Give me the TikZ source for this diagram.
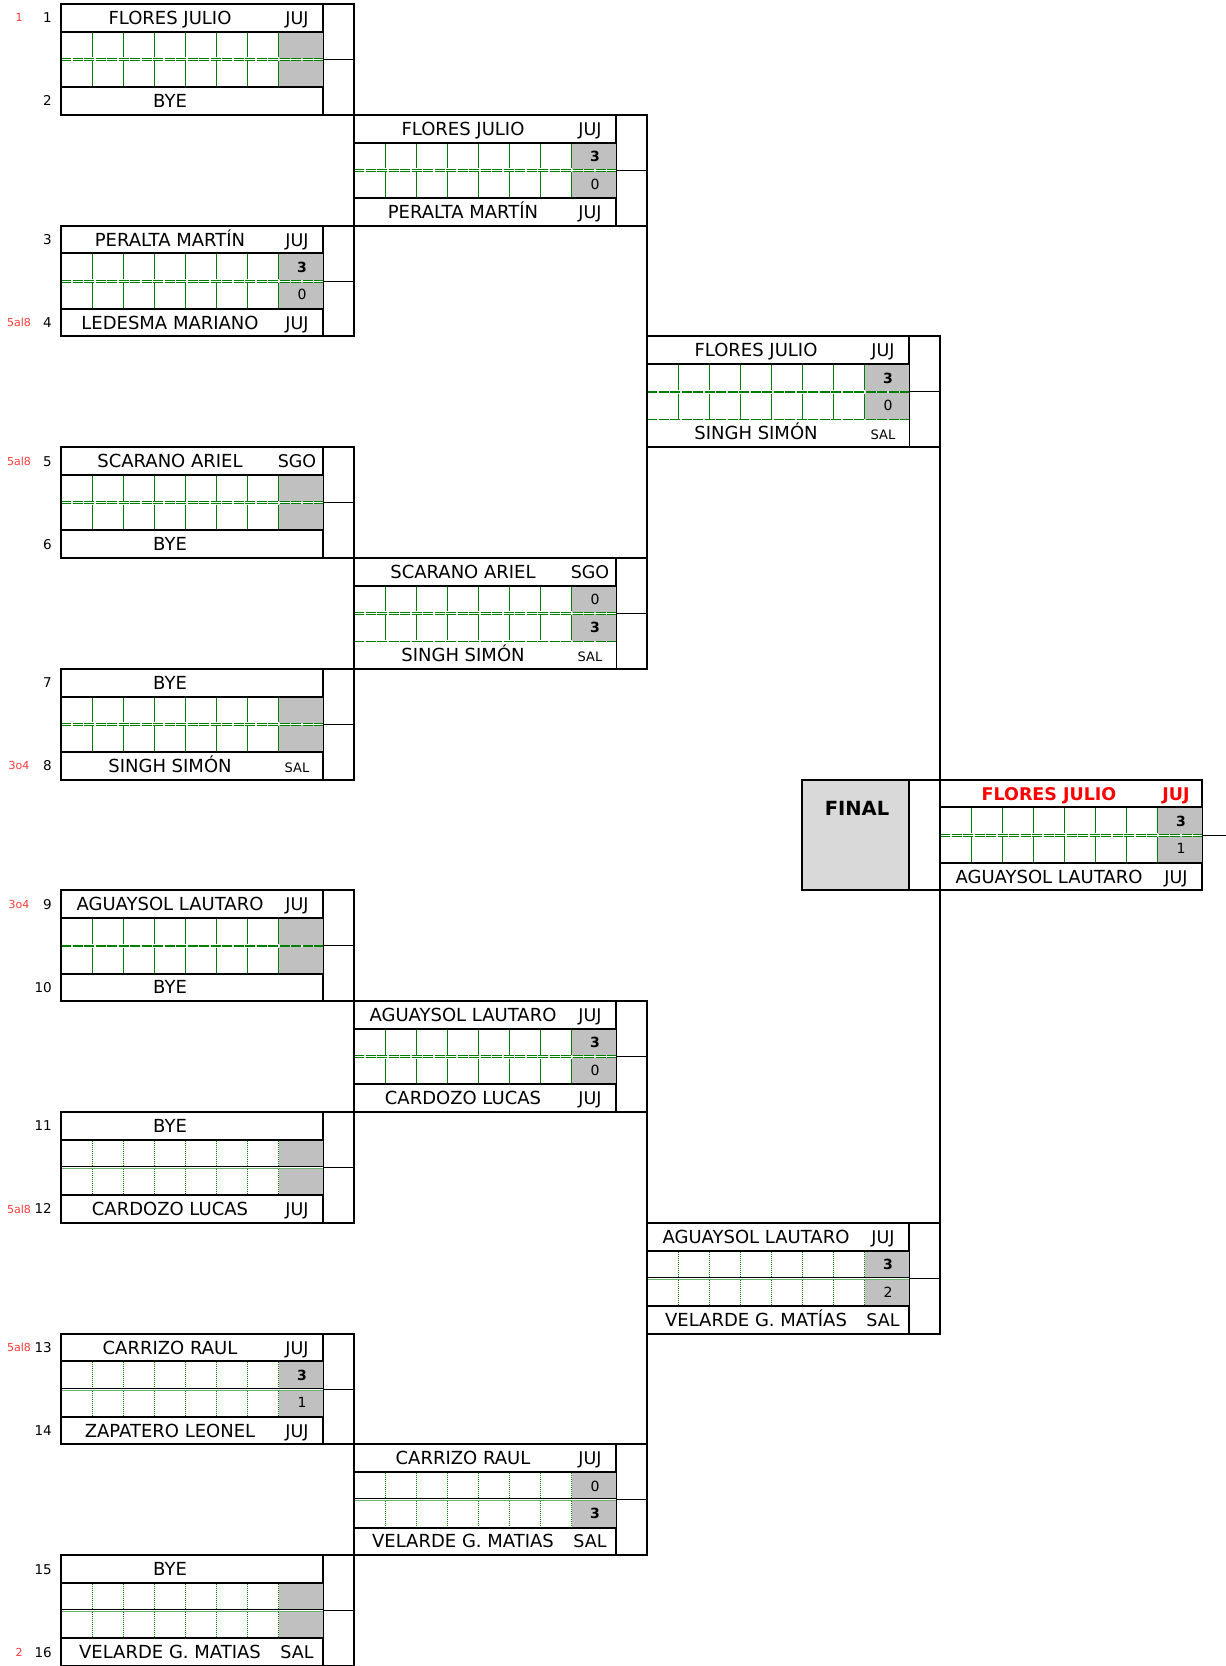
\documentclass[tikz,border=0pt]{standalone}
\usepackage{fontspec}
\setmainfont{DejaVu Sans}
\definecolor{gridgreen}{HTML}{008000}
\definecolor{lightgreen}{HTML}{6DB36D}
\definecolor{cellgrey}{HTML}{C0C0C0}
\definecolor{finalgrey}{HTML}{D9D9D9}
\definecolor{notered}{HTML}{FF3B3B}
\tikzset{
  thickline/.style={line width=2pt, line cap=rect},
  thinline/.style={line width=0.9pt},
  gvert/.style={gridgreen, line width=0.75pt},
  ghor/.style={gridgreen, line width=0.55pt, dash pattern=on 10pt off 1.5pt},
  gdot/.style={gridgreen, line width=0.8pt, dash pattern=on 1pt off 1pt},
  nm/.style={anchor=base, inner sep=0pt, font=\fontsize{18}{20}\selectfont},
  cd/.style={anchor=base, inner sep=0pt, font=\fontsize{17.5}{20}\selectfont},
  cdsmall/.style={anchor=base, inner sep=0pt, font=\fontsize{13}{15}\selectfont},
  sc/.style={anchor=base, inner sep=0pt, font=\fontsize{14}{15}\selectfont},
  scb/.style={anchor=base, inner sep=0pt, font=\fontsize{14}{15}\selectfont\bfseries},
  seed/.style={anchor=base east, inner sep=0pt, font=\fontsize{13.5}{15}\selectfont},
  note/.style={anchor=base, inner sep=0pt, text=notered, font=\fontsize{11}{12}\selectfont},
}
% block frame: #1 = left x, #2 = first row, #3 = grid type (1 dashed, 2 dotted), #4 = variant (0 normal, 1 open bottom row, 2 final)
\newcommand\mblock[4]{%
  \pgfmathsetmacro\ya{4+27.7*#2}%
  \pgfmathsetmacro\yb{\ya+27.7}%
  \pgfmathsetmacro\ym{\ya+55.4}%
  \pgfmathsetmacro\yc{\ya+83.1}%
  \pgfmathsetmacro\yd{\ya+110.8}%
  \pgfmathsetmacro\xg{#1+217.7}%
  \pgfmathsetmacro\xr{#1+262}%
  \pgfmathsetmacro\xo{#1+293}%
  \fill[cellgrey] (\xg,\yb) rectangle (\xr,{\ym-0.9});
  \fill[cellgrey] (\xg,{\ym+0.9}) rectangle (\xr,\yc);
  \ifnum#3=1
    \foreach \k in {1,...,7}{%
      \draw[gvert] ({#1+31.1*\k},{\yb+1}) -- ({#1+31.1*\k},{\ym-2});
      \draw[gvert] ({#1+31.1*\k},{\ym+2}) -- ({#1+31.1*\k},{\yc-1});
    }
    \draw[ghor] (#1,{\ym-0.9}) -- (\xr,{\ym-0.9});
    \draw[ghor] (#1,{\ym+0.9}) -- (\xr,{\ym+0.9});
  \else
    \foreach \k in {1,...,7}{%
      \draw[gdot] ({#1+31.1*\k},{\yb+1}) -- ({#1+31.1*\k},{\ym-1.5});
      \draw[gdot] ({#1+31.1*\k},{\ym+1.5}) -- ({#1+31.1*\k},{\yc-1});
    }
    \draw[thinline, line width=0.7pt] (#1,{\ym-1}) -- (\xr,{\ym-1});
    \draw[lightgreen, line width=0.7pt] (#1,{\ym+1}) -- (\xr,{\ym+1});
  \fi
  \draw[thinline] (\xr,\yb) -- (\xr,\yc);
  \draw[thinline] (\xr,\ym) -- (\xo,\ym);
  \draw[thickline] (#1,\ya) rectangle (\xr,\yb);
  \ifnum#4=1
    \draw[ghor] (#1,\yc) -- (\xr,\yc);
    \draw[thinline] (\xr,\yc) -- (\xr,\yd);
  \else
    \draw[thickline] (#1,\yc) rectangle (\xr,\yd);
  \fi
  \ifnum#4=2
    \draw[thickline] (#1,\ya) -- (\xr,\ya);
    \draw[thickline] (#1,\yd) -- (\xr,\yd);
  \else
    \draw[thickline] (#1,\ya) -- (\xo,\ya);
    \draw[thickline] (#1,\yd) -- (\xo,\yd);
  \fi
  \draw[thickline] (#1,\ya) -- (#1,\yd);
}
% text helpers: [style] node name, left x, row, text
\newcommand\pname[5][nm]{\node[#1] (#2) at ({#3+109},{4+27.7*#4+20.4}) {#5};}
\newcommand\pcode[5][cd]{\node[#1] (#2) at ({#3+236},{4+27.7*#4+20.4}) {#5};}
\newcommand\pscore[5][sc]{\node[#1] (#2) at ({#3+241},{4+27.7*#4+18.9}) {#5};}
\newcommand\pseed[3]{\node[seed] (#1) at (52,{4+27.7*#2+18.8}) {#3};}
\newcommand\pnote[3]{\node[note] (#1) at (19,{4+27.7*#2+17.9}) {#3};}

\begin{document}
\begin{tikzpicture}[x=1pt,y=-1pt]
\useasboundingbox (0,0) rectangle (1226,1666);
\clip (0,0) rectangle (1226,1666);

% round 1
\mblock{61}{0}{1}{0}
\mblock{61}{8}{1}{0}
\mblock{61}{16}{1}{0}
\mblock{61}{24}{1}{0}
\mblock{61}{32}{1}{0}
\mblock{61}{40}{2}{0}
\mblock{61}{48}{2}{0}
\mblock{61}{56}{2}{0}
% round 2
\mblock{354}{4}{1}{0}
\mblock{354}{20}{1}{1}
\mblock{354}{36}{1}{0}
\mblock{354}{52}{2}{0}
% round 3
\mblock{647}{12}{1}{1}
\mblock{647}{44}{2}{0}
% final
\mblock{940}{28}{1}{2}
\draw[thickline, fill=finalgrey] (802,{4+27.7*28}) rectangle (909,{4+27.7*32});
\draw[thickline] (909,{4+27.7*28}) -- (940,{4+27.7*28});
\draw[thickline] (909,{4+27.7*32}) -- (940,{4+27.7*32});
\node[anchor=base, inner sep=0pt, font=\fontsize{19.5}{22}\selectfont\bfseries] (finallabel) at (857,815) {FINAL};

% connectors
\draw[thickline] (354,{4+27.7*0}) -- (354,{4+27.7*12});
\draw[thickline] (354,{4+27.7*16}) -- (354,{4+27.7*28});
\draw[thickline] (354,{4+27.7*32}) -- (354,{4+27.7*44});
\draw[thickline] (354,{4+27.7*48}) -- (354,{4+27.7*60});
\draw[thickline] (647,{4+27.7*4}) -- (647,{4+27.7*24});
\draw[thickline] (647,{4+27.7*36}) -- (647,{4+27.7*56});
\draw[thickline] (940,{4+27.7*12}) -- (940,{4+27.7*48});

% seeds and notes
\pseed{s1}{0}{1}   \pseed{s2}{3}{2}
\pseed{s3}{8}{3}   \pseed{s4}{11}{4}
\pseed{s5}{16}{5}  \pseed{s6}{19}{6}
\pseed{s7}{24}{7}  \pseed{s8}{27}{8}
\pseed{s9}{32}{9}  \pseed{s10}{35}{10}
\pseed{s11}{40}{11} \pseed{s12}{43}{12}
\pseed{s13}{48}{13} \pseed{s14}{51}{14}
\pseed{s15}{56}{15} \pseed{s16}{59}{16}
\pnote{r1}{0}{1}
\pnote{r4}{11}{5al8}
\pnote{r5}{16}{5al8}
\pnote{r8}{27}{3o4}
\pnote{r9}{32}{3o4}
\pnote{r12}{43}{5al8}
\pnote{r13}{48}{5al8}
\pnote{r16}{59}{2}

% round 1 texts
\pname{a1}{61}{0}{FLORES JULIO} \pcode{a1c}{61}{0}{JUJ}
\pname{a2}{61}{3}{BYE}
\pname{a3}{61}{8}{PERALTA MARTÍN} \pcode{a3c}{61}{8}{JUJ}
\pscore[scb]{a3s}{61}{9}{3} \pscore{a4s}{61}{10}{0}
\pname{a4}{61}{11}{LEDESMA MARIANO} \pcode{a4c}{61}{11}{JUJ}
\pname{a5}{61}{16}{SCARANO ARIEL} \pcode{a5c}{61}{16}{SGO}
\pname{a6}{61}{19}{BYE}
\pname{a7}{61}{24}{BYE}
\pname{a8}{61}{27}{SINGH SIMÓN} \pcode[cdsmall]{a8c}{61}{27}{SAL}
\pname{a9}{61}{32}{AGUAYSOL LAUTARO} \pcode{a9c}{61}{32}{JUJ}
\pname{a10}{61}{35}{BYE}
\pname{a11}{61}{40}{BYE}
\pname{a12}{61}{43}{CARDOZO LUCAS} \pcode{a12c}{61}{43}{JUJ}
\pname{a13}{61}{48}{CARRIZO RAUL} \pcode{a13c}{61}{48}{JUJ}
\pscore[scb]{a13s}{61}{49}{3} \pscore{a14s}{61}{50}{1}
\pname{a14}{61}{51}{ZAPATERO LEONEL} \pcode{a14c}{61}{51}{JUJ}
\pname{a15}{61}{56}{BYE}
\pname{a16}{61}{59}{VELARDE G. MATIAS} \pcode{a16c}{61}{59}{SAL}

% round 2 texts
\pname{b1}{354}{4}{FLORES JULIO} \pcode{b1c}{354}{4}{JUJ}
\pscore[scb]{b1s}{354}{5}{3} \pscore{b2s}{354}{6}{0}
\pname{b2}{354}{7}{PERALTA MARTÍN} \pcode{b2c}{354}{7}{JUJ}
\pname{b3}{354}{20}{SCARANO ARIEL} \pcode{b3c}{354}{20}{SGO}
\pscore{b3s}{354}{21}{0} \pscore[scb]{b4s}{354}{22}{3}
\pname{b4}{354}{23}{SINGH SIMÓN} \pcode[cdsmall]{b4c}{354}{23}{SAL}
\pname{b5}{354}{36}{AGUAYSOL LAUTARO} \pcode{b5c}{354}{36}{JUJ}
\pscore[scb]{b5s}{354}{37}{3} \pscore{b6s}{354}{38}{0}
\pname{b6}{354}{39}{CARDOZO LUCAS} \pcode{b6c}{354}{39}{JUJ}
\pname{b7}{354}{52}{CARRIZO RAUL} \pcode{b7c}{354}{52}{JUJ}
\pscore{b7s}{354}{53}{0} \pscore[scb]{b8s}{354}{54}{3}
\pname{b8}{354}{55}{VELARDE G. MATIAS} \pcode{b8c}{354}{55}{SAL}

% round 3 texts
\pname{c1}{647}{12}{FLORES JULIO} \pcode{c1c}{647}{12}{JUJ}
\pscore[scb]{c1s}{647}{13}{3} \pscore{c2s}{647}{14}{0}
\pname{c2}{647}{15}{SINGH SIMÓN} \pcode[cdsmall]{c2c}{647}{15}{SAL}
\pname{c3}{647}{44}{AGUAYSOL LAUTARO} \pcode{c3c}{647}{44}{JUJ}
\pscore[scb]{c3s}{647}{45}{3} \pscore{c4s}{647}{46}{2}
\pname{c4}{647}{47}{VELARDE G. MATÍAS} \pcode{c4c}{647}{47}{SAL}

% final texts
\pname[nm, text=red, font=\fontsize{17.5}{20}\selectfont\bfseries]{d1}{940}{28}{FLORES JULIO}
\pcode[cd, text=red, font=\fontsize{17.5}{20}\selectfont\bfseries]{d1c}{940}{28}{JUJ}
\pscore[scb]{d1s}{940}{29}{3} \pscore{d2s}{940}{30}{1}
\pname{d2}{940}{31}{AGUAYSOL LAUTARO} \pcode{d2c}{940}{31}{JUJ}
\end{tikzpicture}
\end{document}
